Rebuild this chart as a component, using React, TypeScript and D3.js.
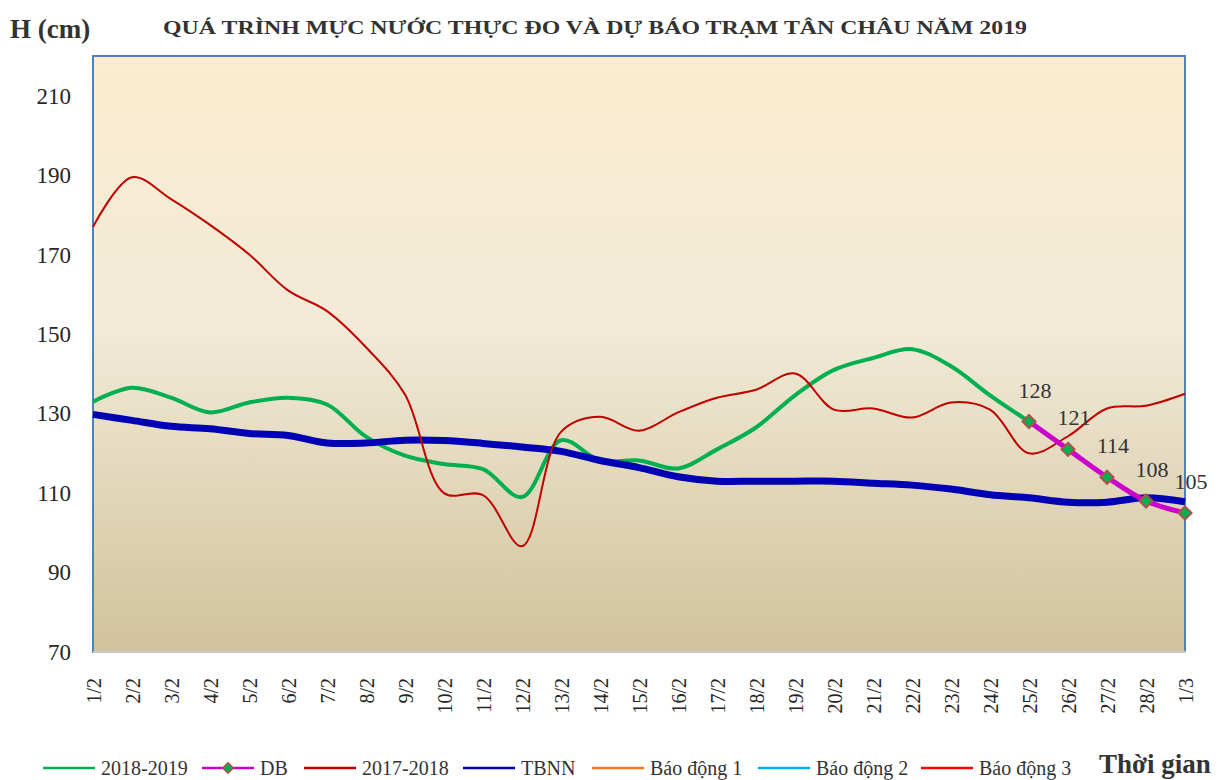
import React, { useRef, useEffect } from 'react';
import * as d3 from 'd3';

// ==================== DATA ====================
const DATES = [
    '1/2', '2/2', '3/2', '4/2', '5/2', '6/2', '7/2', '8/2', '9/2', '10/2',
    '11/2', '12/2', '13/2', '14/2', '15/2', '16/2', '17/2', '18/2', '19/2', '20/2',
    '21/2', '22/2', '23/2', '24/2', '25/2', '26/2', '27/2', '28/2', '1/3'
];

// 2018-2019 measured (ends 25/2)
const H_2018_2019 = [
    133, 136.5, 134, 130.3, 132.8, 134, 132.3, 124.2, 119.4, 117.3,
    116, 109, 123.3, 118.2, 118.2, 116.2, 121, 126.5, 134.6, 141,
    144, 146.2, 141.9, 134.6, 128
];

// forecast (DB)
const DB_DATES = ['25/2', '26/2', '27/2', '28/2', '1/3'];
const H_DB = [128, 121, 114, 108, 105];

const H_2017_2018 = [
    177, 189.5, 184, 177.5, 170.1, 161, 155.8, 146.7, 134.8, 110,
    109.5, 96.6, 125.4, 129.2, 125.7, 130.3, 134, 136, 140.1, 131,
    131.3, 129, 132.8, 131, 120, 124.3, 131.3, 132, 135
];

const H_TBNN = [
    129.8, 128.3, 126.8, 126.2, 125, 124.5, 122.6, 122.6, 123.3, 123.2,
    122.5, 121.6, 120.5, 118.2, 116.4, 114.1, 113, 113, 113, 113,
    112.5, 112, 111, 109.6, 108.8, 107.7, 107.7, 108.8, 107.8
];

const Y_TICKS = [70, 90, 110, 130, 150, 170, 190, 210];

const LEGEND = [
    { label: '2018-2019', color: '#00B050', marker: false },
    { label: 'DB', color: '#CC00CC', marker: true },
    { label: '2017-2018', color: '#C00000', marker: false },
    { label: 'TBNN', color: '#0000B4', marker: false },
    { label: 'Báo động 1', color: '#F07820', marker: false },
    { label: 'Báo động 2', color: '#00B0F0', marker: false },
    { label: 'Báo động 3', color: '#FF0000', marker: false }
];

const TITLE = 'QUÁ TRÌNH MỰC NƯỚC THỰC ĐO VÀ DỰ BÁO TRẠM TÂN CHÂU NĂM 2019';
const FONT = 'Liberation Serif';

const App = () => {
    const svgRef = useRef<SVGSVGElement | null>(null);

    useEffect(() => {
        document.body.style.margin = '0';
        const svg = d3.select(svgRef.current);
        svg.selectAll('*').remove();

        const W = 1222, H = 780;
        const left = 93, right = 1185, top = 56, bottom = 652;

        const x = d3.scalePoint<string>().domain(DATES).range([left, right]);
        const y = d3.scaleLinear().domain([70, 220]).range([bottom, top]);

        // background gradient
        const defs = svg.append('defs');
        const grad = defs.append('linearGradient')
            .attr('id', 'plotBg').attr('x1', 0).attr('y1', 0).attr('x2', 0).attr('y2', 1);
        grad.append('stop').attr('offset', '0%').attr('stop-color', '#FCECCF');
        grad.append('stop').attr('offset', '45%').attr('stop-color', '#F1EBD8');
        grad.append('stop').attr('offset', '100%').attr('stop-color', '#D2C29C');

        svg.append('rect')
            .attr('x', left).attr('y', top)
            .attr('width', right - left).attr('height', bottom - top)
            .attr('fill', 'url(#plotBg)')
            .attr('stroke', '#4F81BD').attr('stroke-width', 2);

        // bottom axis line (grey)
        svg.append('line')
            .attr('x1', left).attr('x2', right + 1)
            .attr('y1', bottom).attr('y2', bottom)
            .attr('stroke', '#C8C8C8').attr('stroke-width', 2);

        // Y tick labels
        const yAxis = svg.append('g')
            .attr('transform', `translate(${left},0)`)
            .call(d3.axisLeft(y).tickValues(Y_TICKS).tickSize(0).tickPadding(22));
        yAxis.select('.domain').remove();
        yAxis.selectAll('text')
            .attr('font-size', 23)
            .attr('fill', '#262626');

        // X tick labels (rotated)
        const xAxis = svg.append('g')
            .attr('transform', `translate(0,${bottom})`)
            .call(d3.axisBottom(x).tickSize(0));
        xAxis.select('.domain').remove();
        xAxis.selectAll('text')
            .attr('font-size', 20)
            .attr('fill', '#262626')
            .attr('text-anchor', 'end')
            .attr('dy', 0)
            .attr('transform', 'translate(7,26) rotate(-90)')
            .attr('y', 0).attr('x', 0);

        const curve = d3.curveCatmullRom.alpha(0.5);
        const line = d3.line<[string, number]>()
            .x(d => x(d[0]) as number)
            .y(d => y(d[1]))
            .curve(curve);

        const series = (dates: string[], vals: number[]) =>
            vals.map((v, i) => [dates[i], v] as [string, number]);

        const plot = svg.append('g');

        // 2018-2019
        plot.append('path')
            .attr('d', line(series(DATES, H_2018_2019)))
            .attr('fill', 'none').attr('stroke', '#00B050')
            .attr('stroke-width', 4).attr('stroke-linejoin', 'round');

        // TBNN
        plot.append('path')
            .attr('d', line(series(DATES, H_TBNN)))
            .attr('fill', 'none').attr('stroke', '#0000B4')
            .attr('stroke-width', 7).attr('stroke-linejoin', 'round');

        // 2017-2018
        plot.append('path')
            .attr('d', line(series(DATES, H_2017_2018)))
            .attr('fill', 'none').attr('stroke', '#C00000')
            .attr('stroke-width', 2).attr('stroke-linejoin', 'round');

        // DB forecast
        const dbData = series(DB_DATES, H_DB);
        plot.append('path')
            .attr('d', line(dbData))
            .attr('fill', 'none').attr('stroke', '#CC00CC')
            .attr('stroke-width', 5).attr('stroke-linejoin', 'round');

        const diamond = d3.symbol().type(d3.symbolDiamond2).size(110);
        plot.selectAll('.db-marker')
            .data(dbData)
            .enter()
            .append('path')
            .attr('class', 'db-marker')
            .attr('d', diamond)
            .attr('transform', d => `translate(${x(d[0])},${y(d[1])})`)
            .attr('fill', '#00B050')
            .attr('stroke', '#B0504D').attr('stroke-width', 2);

        plot.selectAll('.db-label')
            .data(dbData)
            .enter()
            .append('text')
            .attr('class', 'db-label')
            .attr('x', d => (x(d[0]) as number) + 6)
            .attr('y', d => y(d[1]) - 24)
            .attr('text-anchor', 'middle')
            .attr('font-size', 22)
            .attr('fill', '#333')
            .text(d => d[1]);

        // titles
        svg.append('text')
            .attr('x', 10).attr('y', 38)
            .attr('font-weight', 'bold')
            .attr('font-size', 27).attr('fill', '#333')
            .text('H (cm)');

        svg.append('text')
            .attr('x', 163).attr('y', 34)
            .attr('font-weight', 'bold')
            .attr('font-size', 19).attr('fill', '#333')
            .attr('textLength', 864).attr('lengthAdjust', 'spacingAndGlyphs')
            .text(TITLE);

        // legend
        const legendX = [43, 202, 304, 463, 592, 758, 921];
        const ly = 768;
        const lg = svg.append('g');
        LEGEND.forEach((item, i) => {
            const x0 = legendX[i];
            lg.append('line')
                .attr('x1', x0).attr('x2', x0 + 52)
                .attr('y1', ly).attr('y2', ly)
                .attr('stroke', item.color).attr('stroke-width', 2.5);
            if (item.marker) {
                lg.append('path')
                    .attr('d', d3.symbol().type(d3.symbolDiamond2).size(70)())
                    .attr('transform', `translate(${x0 + 26},${ly})`)
                    .attr('fill', '#00B050')
                    .attr('stroke', '#B0504D').attr('stroke-width', 1.5);
            }
            lg.append('text')
                .attr('x', x0 + 58).attr('y', ly + 7)
                .attr('font-size', 20)
                .attr('fill', '#333')
                .text(item.label);
        });

        svg.append('text')
            .attr('x', 1099).attr('y', 773)
            .attr('font-weight', 'bold')
            .attr('font-size', 27).attr('fill', '#333')
            .text('Thời gian');

        // force serif on every label
        svg.selectAll('g').attr('font-family', null);
        svg.selectAll('text').style('font-family', FONT);

        svg.attr('width', W).attr('height', H).attr('viewBox', `0 0 ${W} ${H}`);
    }, []);

    return (
        <div style={{ width: 1222, height: 780, background: '#fff' }}>
            <svg ref={svgRef} style={{ display: 'block' }} />
        </div>
    );
};

export default App;
